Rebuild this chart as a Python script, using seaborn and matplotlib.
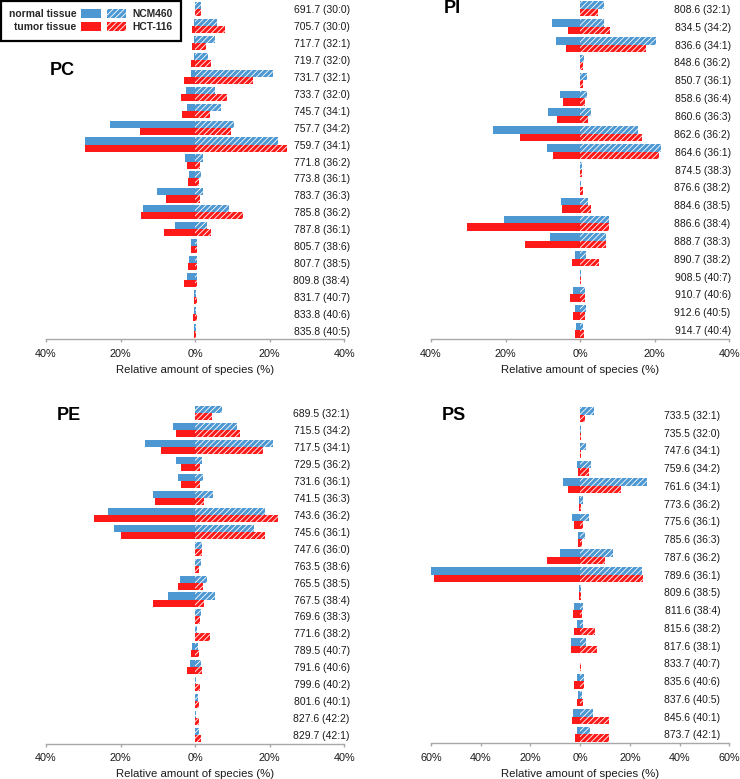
import matplotlib
matplotlib.use("Agg")
import matplotlib.pyplot as plt
from matplotlib.patches import Patch, Rectangle
from matplotlib.ticker import FuncFormatter
import seaborn as sns
import pandas as pd

# ---------------- data ----------------
species_pc = ["691.7 (30:0)", "705.7 (30:0)", "717.7 (32:1)", "719.7 (32:0)", "731.7 (32:1)",
              "733.7 (32:0)", "745.7 (34:1)", "757.7 (34:2)", "759.7 (34:1)", "771.8 (36:2)",
              "773.8 (36:1)", "783.7 (36:3)", "785.8 (36:2)", "787.8 (36:1)", "805.7 (38:6)",
              "807.7 (38:5)", "809.8 (38:4)", "831.7 (40:7)", "833.8 (40:6)", "835.8 (40:5)"]
normal_pc = [0.1, 0.3, 0.3, 0.4, 1.1, 2.4, 2.1, 22.8, 29.6, 2.7, 1.6, 10.2, 13.9, 5.4, 1.0, 1.7, 2.1, 0.3, 0.35, 0.2]
tumor_pc = [0.1, 0.8, 0.8, 1.1, 3.1, 3.75, 3.4, 14.9, 29.5, 2.1, 1.8, 7.7, 14.5, 8.4, 1.0, 2.0, 3.1, 0.4, 0.5, 0.4]
ncm_pc = [1.6, 5.9, 5.4, 3.5, 20.8, 5.2, 6.9, 10.5, 22.1, 2.0, 1.5, 2.1, 9.0, 3.2, 0.5, 0.5, 0.5, 0.3, 0.2, 0.2]
hct_pc = [1.6, 8.0, 3.0, 4.3, 15.5, 8.6, 4.0, 9.5, 24.6, 1.2, 1.0, 1.4, 12.9, 4.2, 0.4, 0.4, 0.4, 0.4, 0.4, 0.3]

species_pi = ["808.6 (32:1)", "834.5 (34:2)", "836.6 (34:1)", "848.6 (36:2)", "850.7 (36:1)",
              "858.6 (36:4)", "860.6 (36:3)", "862.6 (36:2)", "864.6 (36:1)", "874.5 (38:3)",
              "876.6 (38:2)", "884.6 (38:5)", "886.6 (38:4)", "888.7 (38:3)", "890.7 (38:2)",
              "908.5 (40:7)", "910.7 (40:6)", "912.6 (40:5)", "914.7 (40:4)"]
normal_pi = [0.0, 7.5, 6.4, 0.0, 0.0, 5.4, 8.7, 23.3, 8.9, 0.0, 0.0, 5.1, 20.4, 8.0, 1.3, 0.0, 1.8, 1.25, 1.0]
tumor_pi = [0.0, 3.3, 3.75, 0.0, 0.0, 4.5, 6.2, 16.1, 7.3, 0.0, 0.0, 4.8, 30.3, 14.7, 2.3, 0.0, 2.6, 1.9, 1.5]
ncm_pi = [6.3, 6.3, 20.4, 1.0, 1.9, 1.9, 2.9, 15.5, 21.6, 0.6, 0.3, 2.1, 7.7, 6.8, 1.5, 0.3, 1.3, 1.5, 0.7]
hct_pi = [4.9, 8.0, 17.7, 0.7, 0.7, 1.25, 2.2, 16.6, 21.1, 0.5, 0.7, 2.9, 7.7, 7.0, 5.1, 0.2, 1.25, 1.25, 1.0]

species_pe = ["689.5 (32:1)", "715.5 (34:2)", "717.5 (34:1)", "729.5 (36:2)", "731.6 (36:1)",
              "741.5 (36:3)", "743.6 (36:2)", "745.6 (36:1)", "747.6 (36:0)", "763.5 (38:6)",
              "765.5 (38:5)", "767.5 (38:4)", "769.6 (38:3)", "771.6 (38:2)", "789.5 (40:7)",
              "791.6 (40:6)", "799.6 (40:2)", "801.6 (40:1)", "827.6 (42:2)", "829.7 (42:1)"]
normal_pe = [0.0, 5.9, 13.4, 5.2, 4.5, 11.25, 23.3, 21.7, 0.0, 0.0, 4.1, 7.3, 0.0, 0.0, 0.8, 1.25, 0.0, 0.0, 0.0, 0.0]
tumor_pe = [0.0, 5.2, 9.2, 3.7, 3.7, 10.7, 27.1, 19.8, 0.0, 0.0, 4.6, 11.3, 0.0, 0.0, 1.0, 2.3, 0.0, 0.0, 0.0, 0.0]
ncm_pe = [7.1, 11.1, 20.9, 1.8, 2.2, 4.7, 18.75, 15.9, 1.9, 1.5, 3.1, 5.4, 1.5, 0.5, 0.7, 1.7, 0.2, 0.8, 0.35, 1.1]
hct_pe = [4.6, 12.1, 18.2, 1.3, 1.2, 2.4, 22.1, 18.75, 1.9, 1.0, 2.1, 2.5, 1.25, 4.0, 1.1, 1.8, 1.4, 1.1, 1.1, 1.5]

species_ps = ["733.5 (32:1)", "735.5 (32:0)", "747.6 (34:1)", "759.6 (34:2)", "761.6 (34:1)",
              "773.6 (36:2)", "775.6 (36:1)", "785.6 (36:3)", "787.6 (36:2)", "789.6 (36:1)",
              "809.6 (38:5)", "811.6 (38:4)", "815.6 (38:2)", "817.6 (38:1)", "833.7 (40:7)",
              "835.6 (40:6)", "837.6 (40:5)", "845.6 (40:1)", "873.7 (42:1)"]
normal_ps = [0.0, 0.0, 0.0, 1.1, 7.1, 0.3, 3.1, 0.8, 8.0, 59.8, 0.4, 2.4, 1.3, 3.6, 0.1, 1.2, 0.8, 2.7, 1.2]
tumor_ps = [0.0, 0.0, 0.0, 0.7, 4.7, 0.4, 2.4, 0.9, 13.4, 58.8, 0.4, 2.8, 2.3, 3.5, 0.0, 2.4, 1.2, 3.2, 1.9]
ncm_ps = [5.6, 0.5, 2.3, 4.4, 26.8, 1.1, 3.5, 2.1, 13.1, 24.8, 0.4, 1.2, 1.1, 2.3, 0.1, 1.5, 0.7, 5.2, 4.0]
hct_ps = [2.0, 0.3, 0.5, 3.6, 16.6, 0.5, 1.2, 0.9, 10.1, 25.2, 0.4, 0.7, 6.0, 6.8, 0.3, 1.5, 1.2, 11.7, 11.7]

panel_names = ["PC", "PI", "PE", "PS"]
x_ticks_pc = [-40, -20, 0, 20, 40]
x_ticks_ps = [-60, -40, -20, 0, 20, 40, 60]
legend_labels = ["normal tissue", "tumor tissue", "NCM460", "HCT-116"]

# ---------------- style ----------------
sns.set_theme(style="white")
plt.rcParams["font.family"] = ["Liberation Sans", "DejaVu Sans"]
plt.rcParams["hatch.linewidth"] = 0.6

BLUE = "#4d98d2"
RED = "#ff1a1a"
GREY = "#a8a8a8"

W, H = 740, 779
fig = plt.figure(figsize=(W / 100, H / 100), dpi=100)


def add_ax(left, top, right, bottom):
    return fig.add_axes([left / W, 1 - bottom / H, (right - left) / W, (bottom - top) / H])


panels = [
    dict(name=panel_names[0], sp=species_pc, n=normal_pc, t=tumor_pc, c1=ncm_pc, c2=hct_pc,
         box=(46, 0.5, 344.3, 339.5), ticks=x_ticks_pc, pad=4.0, title_xy=(0.013, 0.780)),
    dict(name=panel_names[1], sp=species_pi, n=normal_pi, t=tumor_pi, c1=ncm_pi, c2=hct_pi,
         box=(431, 0.0, 729.3, 339.0), ticks=x_ticks_pc, pad=1.0, title_xy=(0.044, 0.9608)),
    dict(name=panel_names[2], sp=species_pe, n=normal_pe, t=tumor_pe, c1=ncm_pe, c2=hct_pe,
         box=(46, 404.8, 344.3, 743.5), ticks=x_ticks_pc, pad=4.0, title_xy=(0.037, 0.955)),
    dict(name=panel_names[3], sp=species_ps, n=normal_ps, t=tumor_ps, c1=ncm_ps, c2=hct_ps,
         box=(431, 406.0, 729.3, 743.3), ticks=x_ticks_ps, pad=-6.5, title_xy=(0.037, 0.9585)),
]

for p in panels:
    ax = add_ax(*p["box"])
    sp = p["sp"]
    left_df = pd.DataFrame({
        "species": sp + sp,
        "value": [-v for v in p["n"]] + [-v for v in p["t"]],
        "group": [legend_labels[0]] * len(sp) + [legend_labels[1]] * len(sp),
    })
    right_df = pd.DataFrame({
        "species": sp + sp,
        "value": list(p["c1"]) + list(p["c2"]),
        "group": [legend_labels[2]] * len(sp) + [legend_labels[3]] * len(sp),
    })
    sns.barplot(data=left_df, x="value", y="species", hue="group", orient="h",
                order=sp, hue_order=legend_labels[:2], palette=[BLUE, RED],
                width=0.84, saturation=1, legend=False, ax=ax, errorbar=None,
                linewidth=0)
    n_before = len(ax.patches)
    sns.barplot(data=right_df, x="value", y="species", hue="group", orient="h",
                order=sp, hue_order=legend_labels[2:], palette=[BLUE, RED],
                width=0.84, saturation=1, legend=False, ax=ax, errorbar=None,
                linewidth=0)
    for patch in ax.patches[n_before:]:
        patch.set_hatch("//////")
        patch.set_edgecolor("white")
        patch.set_linewidth(0)

    lim = p["ticks"][-1]
    ax.set_xlim(-lim, lim)
    ax.set_xticks(p["ticks"])
    ax.xaxis.set_major_formatter(FuncFormatter(lambda v, pos: f"{abs(v):.0f}%"))
    ax.set_ylim(len(sp) - 0.5, -0.5)
    for s in ["left", "top", "right"]:
        ax.spines[s].set_visible(False)
    ax.spines["bottom"].set_color(GREY)
    ax.spines["bottom"].set_linewidth(1.0)
    ax.tick_params(axis="x", bottom=True, length=2.5, width=1.0, color=GREY,
                   labelsize=7.8, labelcolor="#1a1a1a", pad=4.5)
    ax.tick_params(axis="y", left=False, right=False, length=0, labelleft=False, labelright=True,
                   labelsize=7.5, labelcolor="#1a1a1a", pad=p["pad"])
    for lab in ax.get_yticklabels():
        lab.set_horizontalalignment("right")
    ax.set_ylabel("")
    ax.set_xlabel("Relative amount of species (%)", fontsize=8.2, color="#1a1a1a", labelpad=4.5)
    ax.grid(False)
    ax.patch.set_alpha(0)
    ax.text(p["title_xy"][0], p["title_xy"][1], p["name"], transform=ax.transAxes,
            ha="left", va="baseline", fontsize=13, fontweight="bold", color="black")

# ---------------- legend ----------------
fs = 7.4
h_left = [Patch(facecolor=BLUE, edgecolor="none"), Patch(facecolor=RED, edgecolor="none")]
h_right = [Patch(facecolor=BLUE, edgecolor="white", hatch="//////", linewidth=0),
           Patch(facecolor=RED, edgecolor="white", hatch="//////", linewidth=0)]
common = dict(frameon=False, handlelength=1.85, handleheight=0.97,
              borderpad=0, borderaxespad=0, labelspacing=0.33,
              prop={"weight": "bold", "size": fs}, bbox_transform=fig.transFigure)
leg1 = fig.legend(h_left, legend_labels[:2], loc="center right",
                  bbox_to_anchor=(100.5 / W, 1 - 20.5 / H), markerfirst=False,
                  handletextpad=0.5, **common)
leg2 = fig.legend(h_right, legend_labels[2:], loc="center left",
                  bbox_to_anchor=(106.5 / W, 1 - 20.5 / H), markerfirst=True,
                  handletextpad=0.65, **common)
fig.patches.append(Rectangle((1 / W, 1 - 40.5 / H), 179.5 / W, 39.5 / H, fill=False,
                             edgecolor="black", linewidth=1.6, transform=fig.transFigure))

fig.savefig("out.png", dpi=100)
